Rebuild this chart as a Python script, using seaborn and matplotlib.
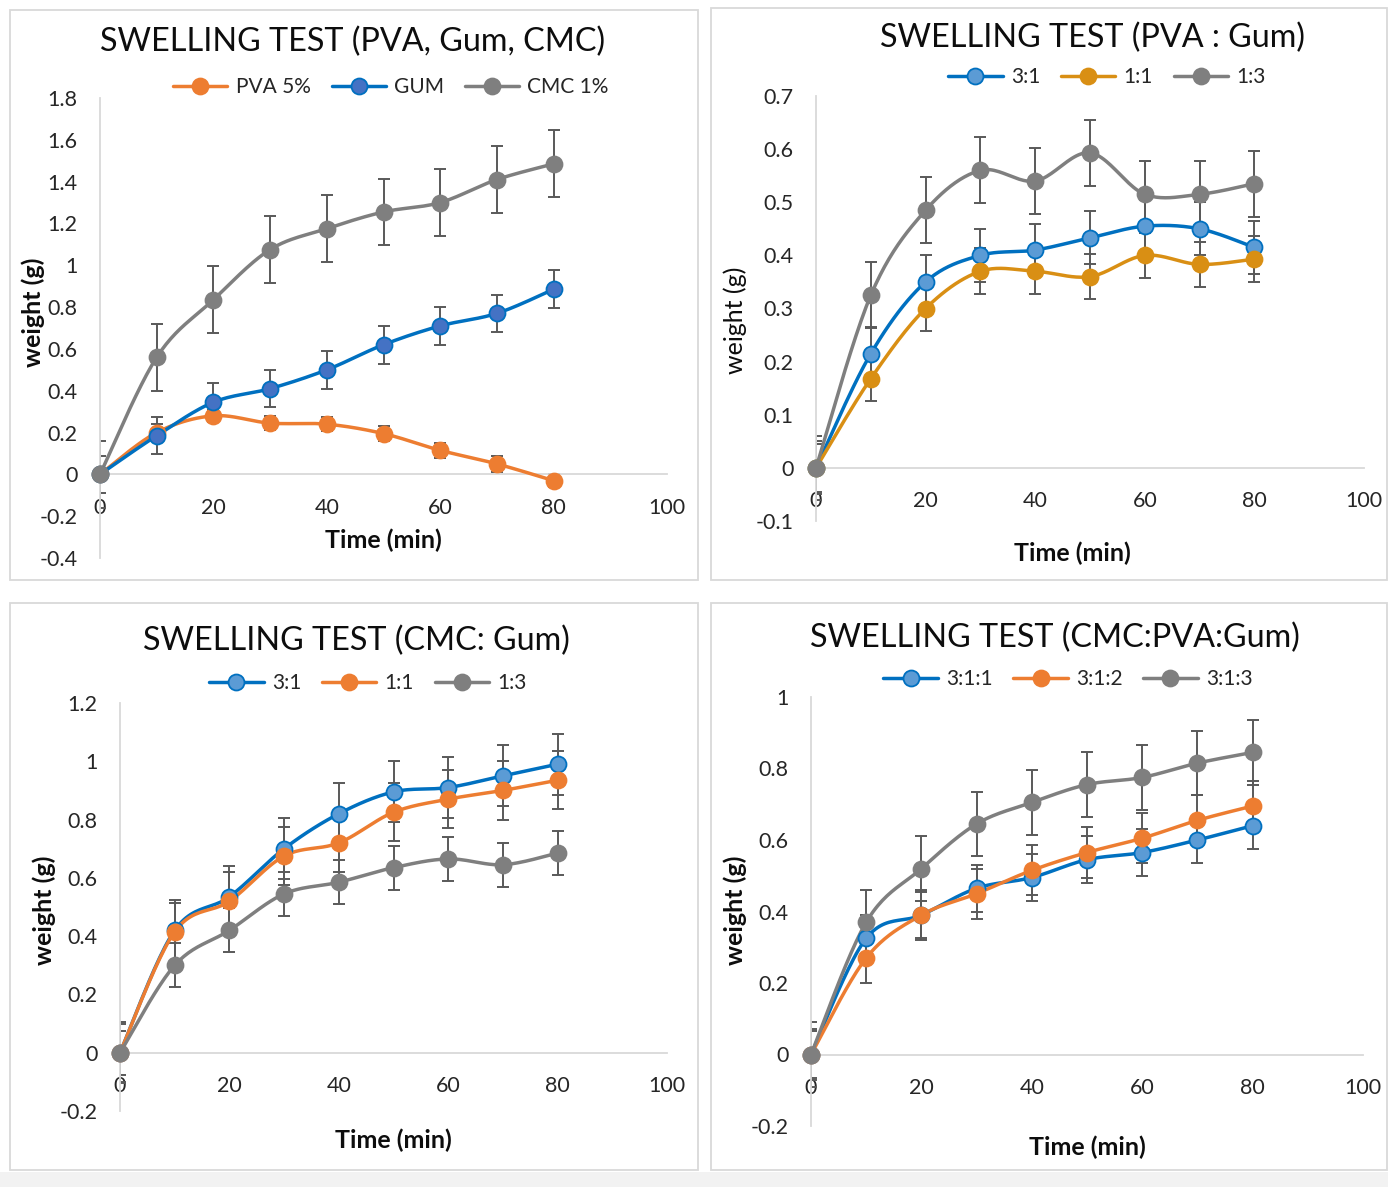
import numpy as np
import seaborn as sns
import matplotlib.pyplot as plt
from matplotlib.patches import Rectangle
from matplotlib.lines import Line2D

# time axis shared by all four tests
time_min = [0, 10, 20, 30, 40, 50, 60, 70, 80]

# panel 1: PVA, Gum, CMC
pva5 = [0, 0.20, 0.28, 0.245, 0.24, 0.195, 0.115, 0.05, -0.03]
pva5_err = [0.03, 0.04, 0.03, 0.035, 0.035, 0.035, 0.035, 0.04, 0.03]
gum = [0, 0.185, 0.345, 0.41, 0.50, 0.62, 0.71, 0.77, 0.885]
gum_err = [0.09, 0.09, 0.09, 0.09, 0.09, 0.09, 0.09, 0.09, 0.09]
cmc1 = [0, 0.56, 0.835, 1.075, 1.175, 1.255, 1.30, 1.41, 1.485]
cmc1_err = [0.16, 0.16, 0.16, 0.16, 0.16, 0.16, 0.16, 0.16, 0.16]

# panel 2: PVA : Gum
pg_31 = [0, 0.215, 0.35, 0.40, 0.41, 0.433, 0.455, 0.45, 0.415]
pg_31_err = [0.05, 0.05, 0.05, 0.05, 0.05, 0.05, 0.05, 0.05, 0.05]
pg_11 = [0, 0.168, 0.30, 0.37, 0.37, 0.36, 0.40, 0.383, 0.393]
pg_11_err = [0.045, 0.043, 0.043, 0.043, 0.043, 0.043, 0.043, 0.043, 0.043]
pg_13 = [0, 0.325, 0.485, 0.56, 0.54, 0.593, 0.515, 0.515, 0.535]
pg_13_err = [0.06, 0.062, 0.062, 0.062, 0.062, 0.062, 0.062, 0.062, 0.062]

# panel 3: CMC : Gum
cg_31 = [0, 0.42, 0.535, 0.70, 0.82, 0.895, 0.91, 0.95, 0.99]
cg_31_err = [0.105, 0.105, 0.105, 0.105, 0.105, 0.105, 0.105, 0.105, 0.105]
cg_11 = [0, 0.415, 0.52, 0.675, 0.72, 0.825, 0.87, 0.90, 0.935]
cg_11_err = [0.1, 0.1, 0.1, 0.1, 0.1, 0.1, 0.1, 0.1, 0.1]
cg_13 = [0, 0.30, 0.42, 0.545, 0.585, 0.635, 0.665, 0.645, 0.685]
cg_13_err = [0.075, 0.075, 0.075, 0.075, 0.075, 0.075, 0.075, 0.075, 0.075]

# panel 4: CMC : PVA : Gum
cpg_311 = [0, 0.325, 0.39, 0.465, 0.495, 0.545, 0.565, 0.60, 0.64]
cpg_311_err = [0.065, 0.065, 0.065, 0.065, 0.065, 0.065, 0.065, 0.065, 0.065]
cpg_312 = [0, 0.27, 0.39, 0.45, 0.515, 0.565, 0.605, 0.655, 0.695]
cpg_312_err = [0.07, 0.07, 0.07, 0.07, 0.07, 0.07, 0.07, 0.07, 0.07]
cpg_313 = [0, 0.37, 0.52, 0.645, 0.705, 0.755, 0.775, 0.815, 0.845]
cpg_313_err = [0.09, 0.09, 0.09, 0.09, 0.09, 0.09, 0.09, 0.09, 0.09]

BLUE = '#0070C0'
BLUE_FILL = '#5B9BD5'
ORANGE = '#ED7D31'
GOLD = '#D98F14'
GREY = '#7F7F7F'
ERR = '#595959'

sns.set_theme(style='white')
plt.rcParams['font.family'] = ['Lato', 'DejaVu Sans']

W, H = 1388, 1187
fig = plt.figure(figsize=(W / 100, H / 100), dpi=100)


def fx(px):
    return px / W


def fy(py):
    return 1 - py / H


def smooth(x, y, n=24):
    # bezier smoothing through the points, like the spreadsheet "smoothed line"
    x = np.asarray(x, float)
    y = np.asarray(y, float)
    px = np.concatenate([[x[0]], x, [x[-1]]])
    py = np.concatenate([[y[0]], y, [y[-1]]])
    xs, ys = [], []
    t = np.linspace(0, 1, n, endpoint=False)
    for i in range(len(x) - 1):
        p0x, p1x, p2x, p3x = px[i:i + 4]
        p0y, p1y, p2y, p3y = py[i:i + 4]
        c1x, c1y = p1x + (p2x - p0x) / 6, p1y + (p2y - p0y) / 6
        c2x, c2y = p2x - (p3x - p1x) / 6, p2y - (p3y - p1y) / 6
        b0, b1, b2, b3 = (1 - t) ** 3, 3 * t * (1 - t) ** 2, 3 * t ** 2 * (1 - t), t ** 3
        xs.append(b0 * p1x + b1 * c1x + b2 * c2x + b3 * p2x)
        ys.append(b0 * p1y + b1 * c1y + b2 * c2y + b3 * p2y)
    xs.append([x[-1]])
    ys.append([y[-1]])
    return np.concatenate(xs), np.concatenate(ys)


# panel frames, kept behind the axes
for (x0, y0, x1, y1) in [(10, 10, 698, 580), (711, 8, 1387, 580),
                         (10, 603, 698, 1170), (711, 603, 1387, 1170)]:
    fig.patches.append(Rectangle((fx(x0), fy(y1)), fx(x1 - x0), (y1 - y0) / H,
                                 transform=fig.transFigure, facecolor='white',
                                 edgecolor='#D9D9D9', lw=1.3, zorder=-1))
fig.patches.append(Rectangle((0, 0), 1, 15 / H, transform=fig.transFigure,
                             facecolor='#F2F2F2', edgecolor='none', zorder=-2))

panels = [
    dict(rect=(100, 98, 667, 558), ylim=(-0.4, 1.8), ystep=0.2,
         title='SWELLING TEST (PVA, Gum, CMC)', title_xy=(353, 42),
         leg_xy=(391, 87), xlab_xy=(383, 540), ylab_xy=(33, 312), ybold=True,
         series=[('PVA 5%', pva5, pva5_err, ORANGE, ORANGE),
                 ('GUM', gum, gum_err, BLUE, '#4472C4'),
                 ('CMC 1%', cmc1, cmc1_err, GREY, GREY)]),
    dict(rect=(816, 96, 1364, 521), ylim=(-0.1, 0.7), ystep=0.1,
         title='SWELLING TEST (PVA : Gum)', title_xy=(1093, 38),
         leg_xy=(1107, 77), xlab_xy=(1072, 553), ylab_xy=(735, 320), ybold=False,
         series=[('3:1', pg_31, pg_31_err, BLUE, BLUE_FILL),
                 ('1:1', pg_11, pg_11_err, GOLD, GOLD),
                 ('1:3', pg_13, pg_13_err, GREY, GREY)]),
    dict(rect=(120, 703, 667, 1111), ylim=(-0.2, 1.2), ystep=0.2,
         title='SWELLING TEST (CMC: Gum)', title_xy=(356, 641),
         leg_xy=(368, 683), xlab_xy=(393, 1140), ylab_xy=(44, 910), ybold=True,
         series=[('3:1', cg_31, cg_31_err, BLUE, BLUE_FILL),
                 ('1:1', cg_11, cg_11_err, ORANGE, ORANGE),
                 ('1:3', cg_13, cg_13_err, GREY, GREY)]),
    dict(rect=(811, 697, 1363, 1126), ylim=(-0.2, 1.0), ystep=0.2,
         title='SWELLING TEST (CMC:PVA:Gum)', title_xy=(1055, 638),
         leg_xy=(1068, 679), xlab_xy=(1087, 1147), ylab_xy=(735, 910), ybold=True,
         series=[('3:1:1', cpg_311, cpg_311_err, BLUE, BLUE_FILL),
                 ('3:1:2', cpg_312, cpg_312_err, ORANGE, ORANGE),
                 ('3:1:3', cpg_313, cpg_313_err, GREY, GREY)]),
]

for p in panels:
    x0, y0, x1, y1 = p['rect']
    ax = fig.add_axes([fx(x0), fy(y1), fx(x1 - x0), (y1 - y0) / H])
    ax.set_facecolor('none')
    handles = []
    for label, vals, err, col, fill in p['series']:
        ax.errorbar(time_min, vals, yerr=err, fmt='none', ecolor=ERR,
                    elinewidth=1.4, capsize=4.5, capthick=1.4, zorder=2)
        sx, sy = smooth(time_min, vals)
        ax.plot(sx, sy, color=col, lw=2.5, zorder=3, solid_capstyle='round')
        ax.plot(time_min, vals, 'o', ms=11.5, mfc=fill, mec=col, mew=1.3,
                zorder=4, clip_on=False)
        handles.append(Line2D([], [], color=col, lw=2.5, marker='o', ms=11.5,
                              mfc=fill, mec=col, mew=1.3))

    lo, hi = p['ylim']
    ax.set_xlim(0, 100)
    ax.set_ylim(lo, hi)
    ax.set_xticks(range(0, 101, 20))
    yt = np.round(np.arange(lo, hi + p['ystep'] / 2, p['ystep']), 2)
    ax.set_yticks(yt)
    ax.set_yticklabels([f'{v:g}' for v in yt])
    ax.tick_params(axis='both', length=0, labelsize=15.5, colors='#262626')
    ax.tick_params(axis='x', pad=17)
    ax.tick_params(axis='y', pad=16)
    for s in ['top', 'right']:
        ax.spines[s].set_visible(False)
    ax.spines['bottom'].set_position(('data', 0))
    ax.spines['bottom'].set_color('#D9D9D9')
    ax.spines['left'].set_color('#D9D9D9')
    ax.spines['bottom'].set_linewidth(1.3)
    ax.spines['left'].set_linewidth(1.3)
    ax.grid(False)

    fig.text(fx(p['title_xy'][0]), fy(p['title_xy'][1]), p['title'],
             ha='center', va='center', fontsize=23.3, color='#0D0D0D')
    ax.legend(handles, [s[0] for s in p['series']], loc='center',
              bbox_to_anchor=(fx(p['leg_xy'][0]), fy(p['leg_xy'][1])),
              bbox_transform=fig.transFigure, ncol=3, frameon=False,
              handlelength=2.6, handletextpad=0.4, columnspacing=1.0,
              fontsize=15, borderaxespad=0, borderpad=0)
    fig.text(fx(p['xlab_xy'][0]), fy(p['xlab_xy'][1]), 'Time (min)',
             ha='center', va='center', fontsize=18, fontweight='bold',
             color='#0D0D0D')
    fig.text(fx(p['ylab_xy'][0]), fy(p['ylab_xy'][1]), 'weight (g)',
             ha='center', va='center', rotation=90, fontsize=18,
             fontweight='bold' if p['ybold'] else 'normal', color='#0D0D0D')

fig.savefig('out.png', dpi=100)
